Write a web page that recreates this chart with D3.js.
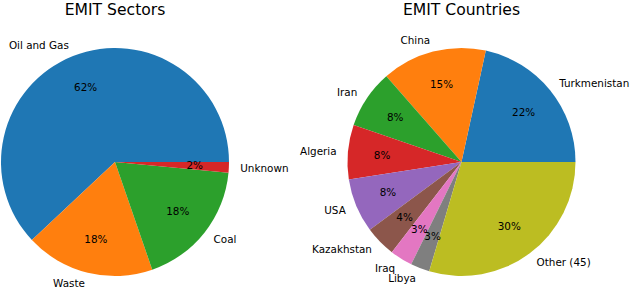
<!DOCTYPE html>
<html><head><meta charset="utf-8">
<script src="https://cdn.jsdelivr.net/npm/d3@7"></script>
<style>
html,body{margin:0;padding:0;background:#fff;}
svg text{font-family:"DejaVu Sans",sans-serif;fill:#000;}
</style></head>
<body><svg id="c" width="630" height="288"></svg>
<script>
const sectorLabels = ["Oil and Gas","Waste","Coal","Unknown"];
const sectorValues = [62.0, 18.3, 18.2, 1.5];
const countryLabels = ["Turkmenistan","China","Iran","Algeria","USA","Kazakhstan","Iraq","Libya","Other (45)"];
const countryValues = [21.6, 14.9, 8.3, 7.7, 7.7, 4.4, 3.2, 2.7, 29.6];
const titles = ["EMIT Sectors","EMIT Countries"];
const tab10 = ["#1f77b4","#ff7f0e","#2ca02c","#d62728","#9467bd","#8c564b","#e377c2","#7f7f7f","#bcbd22","#17becf"];

const svg = d3.select("#c");
const R = 114;

function drawPie(cx, cy, title, labels, values){
  const g = svg.append("g").attr("transform",`translate(${cx},${cy})`);
  const total = d3.sum(values);
  const pie = d3.pie().sort(null).value(d=>d.v)
    .startAngle(Math.PI/2).endAngle(Math.PI/2 - 2*Math.PI);
  const data = pie(labels.map((l,i)=>({l, v:values[i], i})));
  const arc = d3.arc().innerRadius(0).outerRadius(R);
  const color = d3.scaleOrdinal().domain(d3.range(10)).range(tab10);
  g.selectAll("path").data(data).join("path")
    .attr("d", arc).attr("fill", d=>color(d.data.i));
  const mid = d => (d.startAngle + d.endAngle)/2;
  g.selectAll("text.lab").data(data).join("text").attr("class","lab")
    .attr("x", d=>Math.sin(mid(d))*R*1.1)
    .attr("y", d=>-Math.cos(mid(d))*R*1.1)
    .attr("dy","0.35em")
    .attr("text-anchor", d=>Math.sin(mid(d))>0?"start":"end")
    .attr("font-size","10.4px")
    .text(d=>d.data.l);
  g.selectAll("text.pct").data(data).join("text").attr("class","pct")
    .attr("x", d=>Math.sin(mid(d))*R*0.7)
    .attr("y", d=>-Math.cos(mid(d))*R*0.7)
    .attr("dy","0.35em")
    .attr("text-anchor","middle")
    .attr("font-size","10.4px")
    .text(d=>(d.data.v/total*100).toFixed(0)+"%");
  svg.append("text").attr("x",cx).attr("y",15)
    .attr("text-anchor","middle").attr("font-size","15.6px").text(title);
}
drawPie(115, 162, titles[0], sectorLabels, sectorValues);
drawPie(461.5, 162, titles[1], countryLabels, countryValues);
</script></body></html>
